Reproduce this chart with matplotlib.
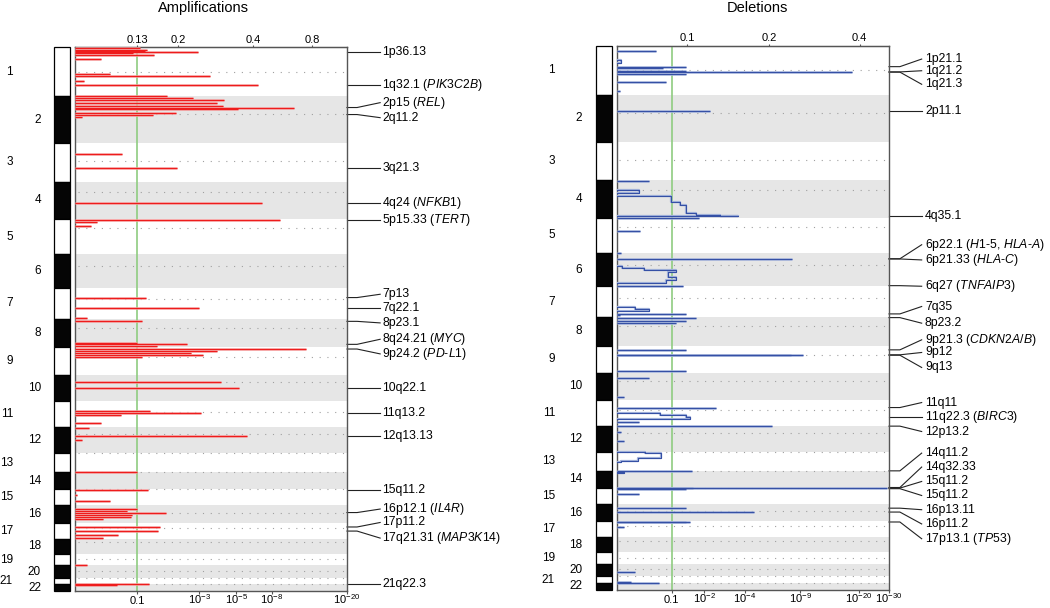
import matplotlib
matplotlib.use("Agg")
import matplotlib.pyplot as plt
import matplotlib.transforms as mtransforms
import numpy as np

plt.rcParams['font.family'] = ['Liberation Sans', 'DejaVu Sans']
plt.rcParams['mathtext.fontset'] = 'custom'
plt.rcParams['mathtext.rm'] = 'Liberation Sans'
plt.rcParams['mathtext.it'] = 'Liberation Sans:italic'

# chromosome lengths as plotted (Mb); p arms of acrocentric chromosomes left out
chrom_len = [249, 243, 198, 191, 181, 171, 159, 146, 141, 136, 135, 134,
             96, 88, 82, 90, 81, 78, 59, 63, 35, 35]
centromere = [125, 93, 91, 50, 48, 61, 60, 46, 49, 40, 54, 36,
              0, 0, 0, 37, 24, 17, 27, 28, 0, 0]

# x values are positions along the (non-linear) score axis, 0 = left edge, 1 = right edge
amp_top_ticks = [0.228, 0.379, 0.654, 0.871]
amp_top_labels = ['0.13', '0.2', '0.4', '0.8']
amp_bottom_ticks = [0.228, 0.456, 0.592, 0.724, 1.0]
amp_bottom_labels = ['0.1', '$10^{-3}$', '$10^{-5}$', '$10^{-8}$', '$10^{-20}$']
amp_cutoff = 0.228

del_top_ticks = [0.26, 0.559, 0.892]
del_top_labels = ['0.1', '0.2', '0.4']
del_bottom_ticks = [0.202, 0.321, 0.47, 0.674, 0.888, 1.0]
del_bottom_labels = ['0.1', '$10^{-2}$', '$10^{-4}$', '$10^{-9}$', '$10^{-20}$', '$10^{-30}$']
del_cutoff = 0.202

# amplification peaks: chromosome, position (Mb), score
amp_chrom = [1] * 11 + [2] * 10 + [3] * 2 + [4] + [5] * 3 + [7] * 3 + [8] * 4 + [9] * 5 + \
            [10] * 2 + [11] * 4 + [12] * 3 + [14] + [15] * 3 + [16] * 6 + [17] * 4 + [19, 21, 22]
amp_pos = [5, 12, 17, 24, 31, 37.5, 62, 138.5, 149, 174, 191,
           0.5, 11, 23, 37, 50, 60, 65.5, 86, 96, 106.5,
           53, 125,
           107,
           3, 15, 37,
           51, 102.5, 154,
           14, 123, 132, 142,
           10, 20, 30, 42, 51,
           40, 67,
           51, 59, 69, 112,
           3, 46, 63,
           1,
           5, 30, 60,
           20, 27, 37, 47, 58, 70,
           21, 42, 64, 75,
           55, 30, 4]
amp_val = [0.239, 0.265, 0.257, 0.452, 0.213, 0.290, 0.096, 0.129, 0.496, 0.033, 0.673,
           0.338, 0.434, 0.548, 0.522, 0.544, 0.805, 0.599, 0.371, 0.287, 0.026,
           0.173, 0.375,
           0.688,
           0.754, 0.081, 0.059,
           0.261, 0.456, 0.044,
           0.246, 0.228, 0.412, 0.301,
           0.849, 0.522, 0.426, 0.471, 0.246,
           0.537, 0.603,
           0.276, 0.463, 0.169, 0.096,
           0.051, 0.632, 0.026,
           0.228,
           0.268, 0.007, 0.129,
           0.228, 0.191, 0.335, 0.210, 0.206, 0.103,
           0.313, 0.305, 0.158, 0.103,
           0.044, 0.272, 0.154]

# deletion peaks (thin) and wider stepped regions
del_chrom = [1] * 8 + [2, 4, 5, 5, 5, 6, 6, 7, 7, 8, 8, 8, 9, 9, 9, 9, 10, 10, 11, 11,
             12, 12, 12, 14, 14, 15, 15, 15, 16, 16, 17, 17, 17, 20, 21, 22]
del_pos = [24, 106, 115, 128, 134, 143, 183, 229,
           84.5, 0.5, 0.5, 68, 179, 31, 168, 142, 150, 2, 17, 31, 21.5, 47, 49, 128,
           26, 125, 40.6, 117, 1, 29, 75, 0.5, 86, 1, 4, 30, 22, 42, 0.5, 3, 29, 44, 30, 1]
del_val = [0.143, 0.256, 0.169, 0.256, 0.863, 0.256, 0.180, 0.011,
           0.342, 0.119, 0.303, 0.087, 0.017, 0.645, 0.244, 0.254, 0.013, 0.293, 0.256,
           0.219, 0.254, 0.685, 0.640, 0.254, 0.118, 0.026, 0.366, 0.081, 0.571, 0.017,
           0.027, 0.277, 0.992, 0.280, 0.256, 0.081, 0.254, 0.505, 0.254, 0.268, 0.027,
           0.069, 0.054, 0.156]

blk_chrom = [1, 4, 4, 4, 4, 4, 4, 4, 4, 6, 6, 6, 6, 6, 6, 7, 7, 11, 11, 11, 13, 13, 13, 13, 14]
blk_start = [72, 49, 78, 79, 109, 126, 167, 177, 180, 65, 75, 87, 99, 123, 138, 105, 119,
             69, 78, 90, 0, 4, 28, 45, 5]
blk_end = [89, 66, 79, 109, 126, 167, 177, 180, 184, 75, 87, 99, 123, 138, 155, 119, 125,
           78, 90, 99, 4, 28, 45, 50, 12]
blk_val = [0.017, 0.081, 0.011, 0.200, 0.232, 0.256, 0.293, 0.379, 0.446, 0.020, 0.100,
           0.219, 0.190, 0.219, 0.180, 0.066, 0.118, 0.158, 0.254, 0.268, 0.103, 0.164,
           0.078, 0.017, 0.027]

# region labels: anchor chromosome / Mb, label height (genome Mb)
amp_names = ['1p36.13', '1q32.1 ($\\mathit{PIK3C2B}$)', '2p15 ($\\mathit{REL}$)', '2q11.2',
             '3q21.3', '4q24 ($\\mathit{NFKB1}$)', '5p15.33 ($\\mathit{TERT}$)', '7p13', '7q22.1',
             '8p23.1', '8q24.21 ($\\mathit{MYC}$)', '9p24.2 ($\\mathit{PD}$-$\\mathit{L1}$)',
             '10q22.1', '11q13.2', '12q13.13', '15q11.2', '16p12.1 ($\\mathit{IL4R}$)',
             '17p11.2', '17q21.31 ($\\mathit{MAP3K14}$)', '21q22.3']
amp_lab_chrom = [1, 1, 2, 2, 3, 4, 5, 7, 7, 8, 8, 9, 10, 11, 12, 15, 16, 17, 17, 21]
amp_lab_pos = [24, 191, 60, 96, 125, 107, 3, 51, 102.5, 14, 132, 10, 67, 59, 46, 5, 37, 21, 42, 30]
amp_lab_y = [24, 191, 284, 361, 617, 797, 884, 1267, 1335.5, 1414, 1498, 1573,
             1746, 1874, 1996, 2273, 2369, 2438, 2518, 2751]

del_names = ['1p21.1', '1q21.2', '1q21.3', '2p11.1', '4q35.1',
             '6p22.1 ($\\mathit{H1}$-$\\mathit{5}$, $\\mathit{HLA}$-$\\mathit{A}$)',
             '6p21.33 ($\\mathit{HLA}$-$\\mathit{C}$)', '6q27 ($\\mathit{TNFAIP3}$)', '7q35',
             '8p23.2', '9p21.3 ($\\mathit{CDKN2A/B}$)', '9p12', '9q13', '11q11',
             '11q22.3 ($\\mathit{BIRC3}$)', '12p13.2', '14q11.2', '14q32.33', '15q11.2',
             '15q11.2', '16p13.11', '16p11.2', '17p13.1 ($\\mathit{TP53}$)']
del_lab_chrom = [1, 1, 1, 2, 4, 6, 6, 6, 7, 8, 9, 9, 9, 11, 11, 12, 14, 14, 15, 15, 16, 16, 17]
del_lab_pos = [106, 133, 134, 84.5, 181, 30, 31, 168, 142, 2, 21.5, 47, 49, 40.6, 90, 1,
               0.5, 86, 1, 4, 22, 42, 3]
del_lab_y = [67, 127, 196.5, 333.5, 871, 1020, 1098, 1233, 1337, 1422.6, 1508, 1573, 1650,
             1830, 1905, 1978.6, 2089.5, 2161, 2235, 2307, 2380, 2453, 2529]

chrom_start = np.concatenate([[0], np.cumsum(chrom_len)[:-1]])
genome_len = float(np.sum(chrom_len))


def gpos(c, p):
    return chrom_start[c - 1] + p


W, H = 1050, 608
fig = plt.figure(figsize=(10.5, 6.08), dpi=100)


def box(x0, x1, y0, y1):
    return [x0 / W, 1 - y1 / H, (x1 - x0) / W, (y1 - y0) / H]


def draw_panel(title, title_x, ideo_x, main_x, ys, odd_x, even_x,
               top_ticks, top_labels, bot_ticks, bot_labels, cutoff,
               sp_chrom, sp_pos, sp_val, light, dark,
               names, lab_chrom, lab_pos, lab_y, stub, bend, tx,
               b_chrom=(), b_start=(), b_end=(), b_val=()):
    # ideogram
    ai = fig.add_axes(box(ideo_x[0], ideo_x[1], ys[0], ys[1]))
    ai.bar(0.5, chrom_len, bottom=chrom_start, width=1,
           color=['white' if i % 2 == 0 else '#050505' for i in range(22)],
           edgecolor='black', linewidth=0.9, clip_on=False)
    ai.set_xlim(0, 1)
    ai.set_ylim(genome_len, 0)
    ai.axis('off')
    tr_lab = mtransforms.blended_transform_factory(fig.transFigure, ai.transData)
    for i in range(22):
        mid = chrom_start[i] + chrom_len[i] / 2
        x = odd_x if i % 2 == 0 else even_x
        ai.text(x / W, mid, str(i + 1), transform=tr_lab, ha='right', va='center', fontsize=8.5)

    ax = fig.add_axes(box(main_x[0], main_x[1], ys[0], ys[1]))
    for i in range(1, 22, 2):
        ax.axhspan(chrom_start[i], chrom_start[i] + chrom_len[i], color='#e6e6e6', lw=0, zorder=0)
    ax.hlines(chrom_start + np.array(centromere), 0.01, 0.99, colors='#a0a0a0',
              linestyles=(0, (1, 6)), lw=0.8, zorder=1)
    ax.axvline(cutoff, color='#8fcc80', lw=1.2, zorder=2)

    g = [gpos(c, p) for c, p in zip(sp_chrom, sp_pos)]
    ax.hlines(g, 0, sp_val, colors=light, lw=1.8, zorder=3)
    ax.hlines(g, 0, sp_val, colors=dark, lw=0.8, zorder=4)

    # stepped regions: touching blocks on one chromosome make one outline
    groups = []
    for c, a, b, v in sorted(zip(b_chrom, b_start, b_end, b_val)):
        g0, g1 = gpos(c, a), gpos(c, b)
        if groups and abs(groups[-1][-1][1] - g0) < 1e-6:
            groups[-1].append((g0, g1, v))
        else:
            groups.append([(g0, g1, v)])
    for grp in groups:
        xs, yv = [0], [grp[0][0]]
        for g0, g1, v in grp:
            xs += [v, v]
            yv += [g0, g1]
        xs.append(0)
        yv.append(grp[-1][1])
        ax.plot(xs, yv, color=light, lw=1.6, zorder=3)
        ax.plot(xs, yv, color=dark, lw=0.8, zorder=4)

    ax.set_xlim(0, 1)
    ax.set_ylim(genome_len, 0)
    ax.set_yticks([])
    ax.set_xticks(bot_ticks)
    ax.set_xticklabels([])
    ax.tick_params(axis='x', length=2.5, width=0.8, color='#555555')
    # bottom labels on a common baseline so the powers of ten sit like the reference
    tr_bot = mtransforms.blended_transform_factory(ax.transData, fig.transFigure)
    for t, lab in zip(bot_ticks, bot_labels):
        ax.text(t, 1 - (ys[1] + 13) / H, lab, transform=tr_bot, ha='center',
                va='baseline', fontsize=8)
    sec = ax.secondary_xaxis('top')
    sec.set_xticks(top_ticks)
    sec.set_xticklabels(top_labels)
    sec.tick_params(axis='x', length=1.5, width=0.8, color='#555555', labelsize=8, pad=0.5)
    sec.spines['top'].set_color('#555555')
    for s in ax.spines.values():
        s.set_color('#555555')
        s.set_linewidth(1.0)

    tr = mtransforms.blended_transform_factory(ax.transAxes, ax.transData)
    for n, c, p, ty in zip(names, lab_chrom, lab_pos, lab_y):
        y = gpos(c, p)
        ax.plot([1, stub, bend], [y, y, ty], transform=tr, clip_on=False,
                color='#222222', lw=0.8)
        ax.text(tx, ty, n, transform=tr, ha='left', va='center', fontsize=8.8)

    fig.text(title_x / W, 1 - 8 / H, title, ha='center', va='center', fontsize=10.5)


draw_panel('Amplifications', 203, (54.3, 70.3), (75.3, 347), (47.3, 591.3), 13, 41,
           amp_top_ticks, amp_top_labels, amp_bottom_ticks, amp_bottom_labels, amp_cutoff,
           amp_chrom, amp_pos, amp_val, '#f59a9a', '#ee1c1c',
           amp_names, amp_lab_chrom, amp_lab_pos, amp_lab_y, 1.037, 1.122, 1.13)

draw_panel('Deletions', 757, (595.7, 611.7), (616.7, 889), (46, 589.8), 555, 582.4,
           del_top_ticks, del_top_labels, del_bottom_ticks, del_bottom_labels, del_cutoff,
           del_chrom, del_pos, del_val, '#a3b3dc', '#3550a5',
           del_names, del_lab_chrom, del_lab_pos, del_lab_y, 1.04, 1.12, 1.132,
           blk_chrom, blk_start, blk_end, blk_val)

fig.savefig('out.png', dpi=100)
